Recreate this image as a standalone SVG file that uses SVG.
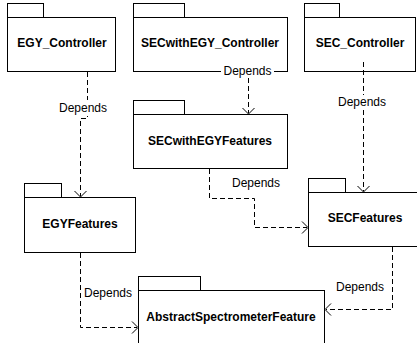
<svg xmlns="http://www.w3.org/2000/svg" width="417" height="343" viewBox="0 0 417 343">
<defs>
<style>
.box{fill:#fff;stroke:#000;stroke-width:1}
.name{font-family:"Liberation Sans",Arial,sans-serif;font-size:12px;font-weight:bold;text-anchor:middle;fill:#000}
.lbl{font-family:"Liberation Sans",Arial,sans-serif;font-size:12px;text-anchor:middle;fill:#000}
.dep{fill:none;stroke:#000;stroke-width:1;stroke-dasharray:5,3}
.head{fill:none;stroke:#000;stroke-width:1}
.bg{fill:#fff}
</style>
</defs>
<rect width="417" height="343" fill="#fff"/>
<g id="EGY_Controller">
<rect class="box" x="7.5" y="3.5" width="36" height="14"/>
<rect class="box" x="7.5" y="17.5" width="108" height="54"/>
<text class="name" x="62" y="47">EGY_Controller</text>
</g>
<g id="SECwithEGY_Controller">
<rect class="box" x="133.5" y="3.5" width="51" height="14"/>
<rect class="box" x="133.5" y="17.5" width="154" height="54"/>
<text class="name" x="210" y="47">SECwithEGY_Controller</text>
</g>
<g id="SEC_Controller">
<rect class="box" x="304.5" y="3.5" width="35" height="14"/>
<rect class="box" x="304.5" y="17.5" width="111" height="54"/>
<text class="name" x="360" y="47">SEC_Controller</text>
</g>
<g id="SECwithEGYFeatures">
<rect class="box" x="133.5" y="100.5" width="51" height="14"/>
<rect class="box" x="133.5" y="114.5" width="154" height="54"/>
<text class="name" x="210" y="145">SECwithEGYFeatures</text>
</g>
<g id="EGYFeatures">
<rect class="box" x="24.5" y="183.5" width="37" height="14"/>
<rect class="box" x="24.5" y="197.5" width="111" height="55"/>
<text class="name" x="80" y="228">EGYFeatures</text>
</g>
<g id="SECFeatures">
<rect class="box" x="308.5" y="178.5" width="37" height="14"/>
<rect class="box" x="308.5" y="192.5" width="110" height="54"/>
<text class="name" x="365" y="222">SECFeatures</text>
</g>
<g id="AbstractSpectrometerFeature">
<rect class="box" x="138.5" y="276.5" width="62" height="14"/>
<rect class="box" x="138.5" y="290.5" width="186" height="60"/>
<text class="name" x="231" y="321">AbstractSpectrometerFeature</text>
</g>
<g id="connectors">
<path class="dep" d="M87.5,72 V118.5 H80.5 V196"/>
<path class="head" d="M74.5,191 L80.5,197 L86.5,191"/>
<rect class="bg" x="57" y="100" width="52" height="16"/>
<text class="lbl" x="83" y="112">Depends</text>

<path class="dep" d="M248.5,78 V113"/>
<path class="head" d="M242.5,108 L248.5,114 L254.5,108"/>
<rect class="bg" x="221" y="66" width="53" height="12"/>
<text class="lbl" x="247.5" y="75">Depends</text>

<path class="dep" d="M363.5,62 V191"/>
<path class="head" d="M357.5,186 L363.5,192 L369.5,186"/>
<rect class="bg" x="337" y="95" width="52" height="14"/>
<text class="lbl" x="362" y="106">Depends</text>

<path class="dep" d="M209.5,169 V198.5 H254.5 V227.5 H307"/>
<path class="head" d="M302,221.5 L308,227.5 L302,233.5"/>
<text class="lbl" x="256" y="187">Depends</text>

<path class="dep" d="M80.5,253 V327.5 H137"/>
<path class="head" d="M132,321.5 L138,327.5 L132,333.5"/>
<text class="lbl" x="108" y="297">Depends</text>

<path class="dep" d="M392.5,247 V309.5 H326"/>
<path class="head" d="M331,303.5 L325,309.5 L331,315.5"/>
<text class="lbl" x="360" y="291">Depends</text>
</g>
</svg>
